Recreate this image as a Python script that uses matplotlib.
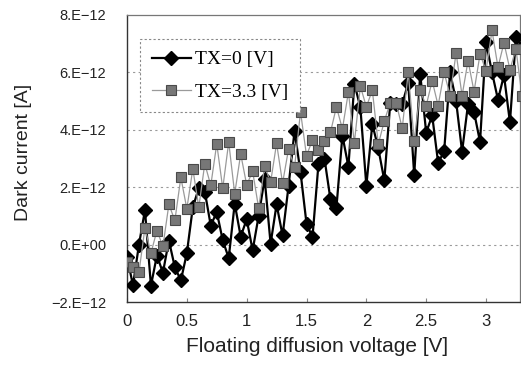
import matplotlib
matplotlib.use("Agg")
import matplotlib.pyplot as plt
import numpy as np

# Floating diffusion voltage sweep [V], 0.05 V steps
voltage = np.round(np.arange(0, 3.301, 0.05), 2)

# Dark current in units of 1e-12 A
tx0 = [-0.42, -1.42, 0.0, 1.2, -1.43, -0.38, -0.98, 0.14, -0.79, -1.25,
       -0.3, 1.3, 1.97, 1.85, 0.66, 1.14, 0.15, -0.47, 1.43, 0.28,
       0.88, -0.2, 1.0, 2.3, 0.03, 1.4, 0.32, 2.04, 3.96, 2.52,
       0.73, 0.26, 2.81, 3.0, 1.58, 1.29, 3.8, 2.72, 5.61, 4.78,
       2.05, 4.2, 3.35, 2.24, 4.95, 4.9, 4.9, 5.63, 2.42, 5.95,
       3.9, 4.5, 2.85, 3.25, 6.0, 5.0, 3.24, 4.9, 4.62, 3.58,
       7.06, 6.0, 5.05, 5.9, 4.26, 7.23, 6.9]

tx33 = [-0.62, -0.79, -0.96, 0.58, -0.3, 0.49, -0.06, 1.4, 0.84, 2.34,
        1.25, 2.64, 1.3, 2.82, 2.06, 3.51, 1.96, 3.57, 1.77, 3.16,
        2.08, 2.55, 1.27, 2.74, 2.17, 3.53, 2.14, 3.33, 2.69, 4.63,
        3.1, 3.65, 3.28, 3.6, 3.91, 4.8, 4.03, 5.31, 3.55, 5.52,
        4.8, 5.38, 3.5, 4.3, 4.95, 4.93, 4.05, 6.0, 3.62, 5.37,
        4.84, 5.71, 4.84, 6.0, 5.19, 6.68, 5.19, 6.41, 5.33, 6.64,
        6.06, 7.46, 6.18, 7.03, 6.1, 6.82, 5.19]

yticks = [-2, 0, 2, 4, 6, 8]
ytick_labels = ["\u22122.E\u221212", "0.E+00", "2.E\u221212", "4.E\u221212",
                "6.E\u221212", "8.E\u221212"]
xticks = [0, 0.5, 1, 1.5, 2, 2.5, 3]
xtick_labels = ["0", "0.5", "1", "1.5", "2", "2.5", "3"]

plt.rcParams["font.family"] = ["Liberation Sans", "DejaVu Sans"]

fig = plt.figure(figsize=(5.21, 3.69), dpi=100)
ax = fig.add_axes([127 / 521, 67 / 369, 393 / 521, 287 / 369])

scale = 1e-12
ax.plot(voltage, np.array(tx0) * scale, color="black", lw=1.6,
        marker="D", markersize=7, markerfacecolor="black",
        markeredgecolor="black", label="TX=0 [V]", zorder=3)
ax.plot(voltage, np.array(tx33) * scale, color="#9a9a9a", lw=0.9,
        marker="s", markersize=7, markerfacecolor="#777777",
        markeredgecolor="#4a4a4a", markeredgewidth=0.8,
        label="TX=3.3 [V]", zorder=4)

ax.set_xlim(0, 3.284)
ax.set_ylim(-2e-12, 8e-12)
ax.set_yticks([v * scale for v in yticks])
ax.set_yticklabels(ytick_labels, fontsize=10.5, color="#222222")
ax.set_xticks(xticks)
ax.set_xticklabels(xtick_labels, fontsize=12, color="#222222")
ax.tick_params(axis="y", length=0, pad=15)
ax.tick_params(axis="x", direction="in", length=3, color="#888888", pad=9)

for v in [0, 2, 4, 6]:
    ax.axhline(v * scale, color="#9a9a9a", lw=0.8, ls=(0, (2, 3)), zorder=1)

for side in ["left", "bottom"]:
    ax.spines[side].set_color("#333333")
    ax.spines[side].set_linewidth(1.0)
for side in ["top", "right"]:
    ax.spines[side].set_color("#777777")
    ax.spines[side].set_linewidth(0.9)
    ax.spines[side].set_linestyle((0, (2, 1)))

leg = ax.legend(loc="upper left", bbox_to_anchor=(0.033, 0.916),
                prop={"family": "Liberation Serif", "size": 14},
                handlelength=2.0, handletextpad=0.25, borderpad=0.6,
                labelspacing=0.75, borderaxespad=0, fancybox=False,
                framealpha=1)
leg.get_frame().set_edgecolor("#888888")
leg.get_frame().set_linestyle((0, (2, 2)))
leg.get_frame().set_linewidth(0.8)

fig.text(24 / 521, 1 - 152 / 369, "Dark current [A]", rotation=90,
         ha="center", va="center", fontsize=14, color="#222222")
fig.text(317 / 521, 1 - 346 / 369, "Floating diffusion voltage [V]",
         ha="center", va="center", fontsize=15, color="#222222")

fig.savefig("out.png", dpi=100)
